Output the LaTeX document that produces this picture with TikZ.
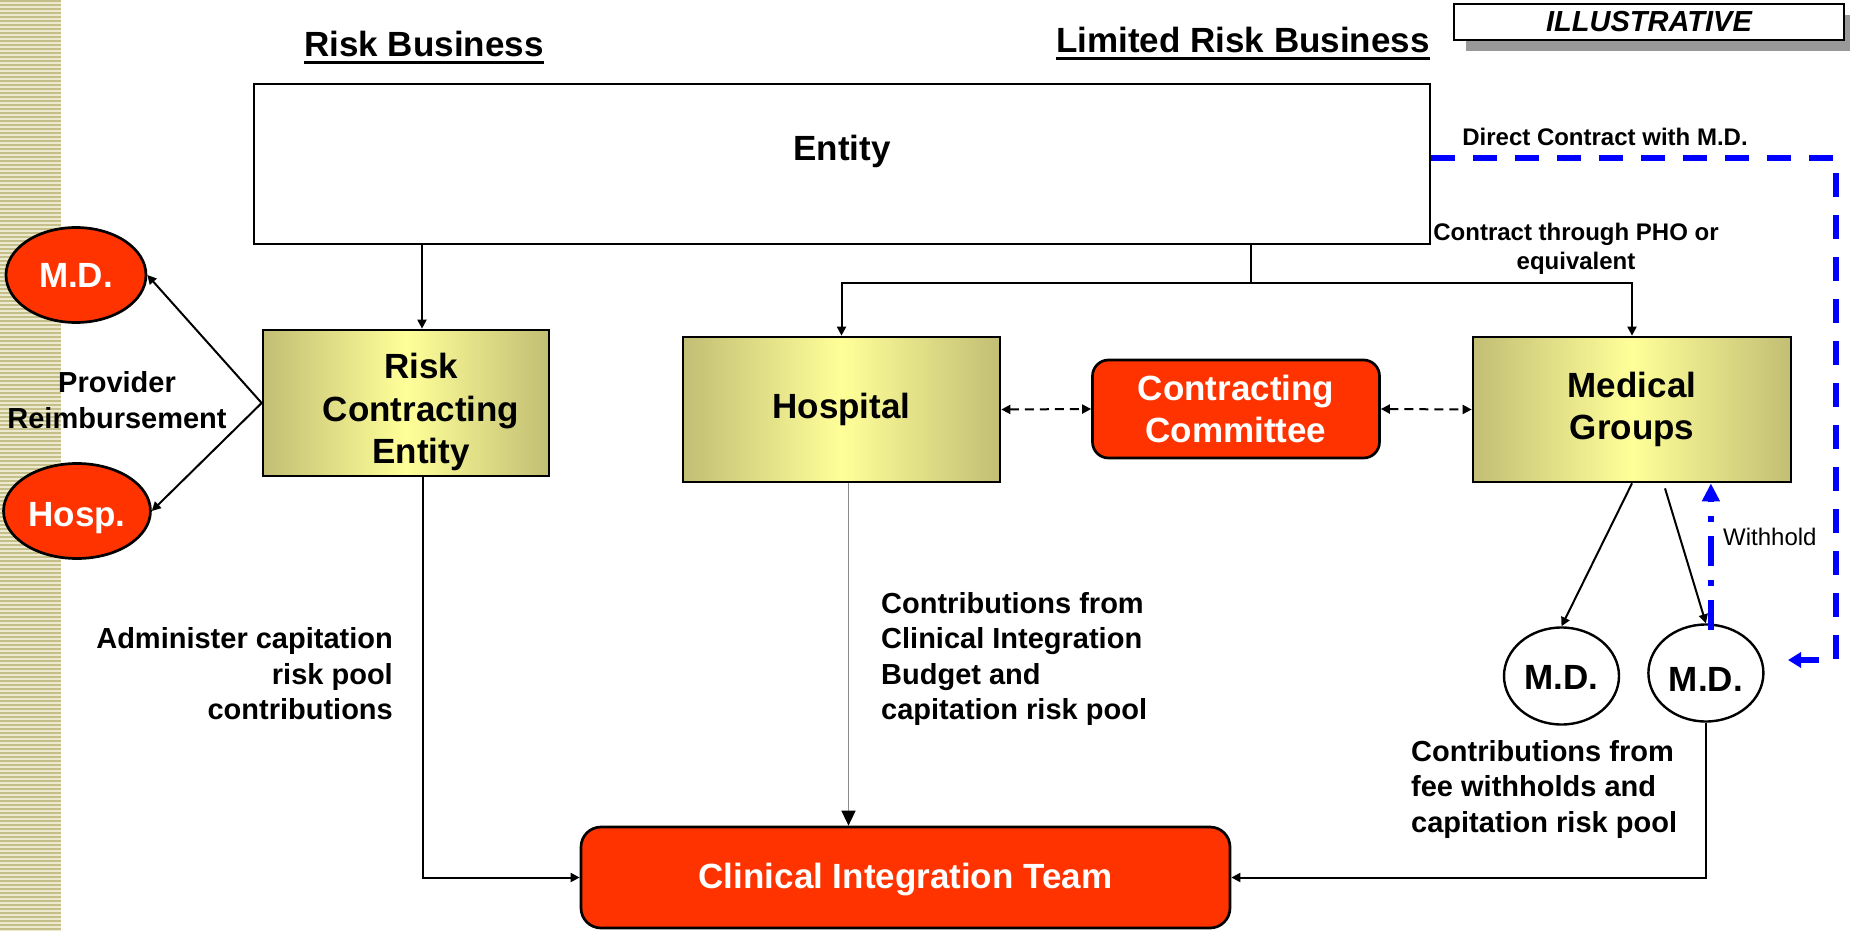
\documentclass[tikz,border=0pt]{standalone}
\usepackage{fontspec}
\setmainfont{Liberation Sans}
\usetikzlibrary{arrows.meta,positioning,calc,shapes.geometric,shadows}

\definecolor{olivedk}{HTML}{C2BE74}
\definecolor{paleyel}{HTML}{FFFF99}
\definecolor{hotred}{HTML}{FF3300}
\definecolor{stripedk}{HTML}{C4BF88}
\definecolor{stripelt}{HTML}{ECE9CF}

\begin{document}
\begin{tikzpicture}[x=1pt,y=-1pt,>={Triangle[length=9pt,width=9pt]},
  bigtxt/.style={font=\fontsize{35}{42.5}\selectfont\bfseries},
  midtxt/.style={font=\fontsize{29}{35.5}\selectfont\bfseries,inner sep=0pt},
  smalltxt/.style={font=\fontsize{24}{29}\selectfont\bfseries,inner sep=0pt},
  goldbox/.style={draw,line width=2.7pt,bigtxt,align=center,
    left color=olivedk,right color=olivedk,middle color=paleyel},
  redbox/.style={draw,line width=2.7pt,fill=hotred,text=white,bigtxt,
    align=center,rounded corners=16pt},
  redoval/.style={ellipse,draw,line width=2.7pt,fill=hotred,text=white,bigtxt,
    minimum width=140pt,minimum height=95pt},
  mdoval/.style={ellipse,draw,line width=2.4pt,fill=white,bigtxt,
    minimum width=115pt,minimum height=97pt},
  link/.style={line width=2pt}]
\useasboundingbox (0,0) rectangle (1850,931);

% striped band down the left edge
\fill[stripelt] (0,0) rectangle (61,931);
\foreach \y in {0,4,...,928} \fill[stripedk] (0,\y) rectangle (61,\y+2);

\node (riskbiz) [bigtxt,inner sep=0pt,anchor=base] at (424,57) {Risk Business};
\node (limbiz) [bigtxt,inner sep=0pt,anchor=base] at (1243,53) {Limited Risk Business};
\draw[line width=3.5pt] ([yshift=-5.5pt]riskbiz.base west) -- ([yshift=-5.5pt]riskbiz.base east);
\draw[line width=3.5pt] ([yshift=-5.5pt]limbiz.base west) -- ([yshift=-5.5pt]limbiz.base east);

\node (illus) [draw,line width=2.7pt,fill=white,minimum width=390pt,minimum height=36pt,
  font=\fontsize{29}{34}\selectfont\bfseries\itshape,
  drop shadow={shadow xshift=12pt,shadow yshift=-11pt,fill=black!40,opacity=1}]
  at (1649,22) {ILLUSTRATIVE};

\node (entity) [draw,line width=2.7pt,minimum width=1176pt,minimum height=160pt,
  label={[bigtxt,yshift=13pt]center:Entity}] at (842,164) {};

\node (rce) [goldbox,minimum width=286pt,minimum height=146pt,
  label={[bigtxt,align=center,xshift=15pt,yshift=-9pt]center:{Risk\\Contracting\\Entity}}] at (406,403) {};
\node (hosp) [goldbox,minimum width=317pt,minimum height=145pt] at (841.5,409.5) {Hospital};
\node (cc) [redbox,minimum width=287pt,minimum height=98pt] at (1236,409) {Contracting\\Committee};
\node (medgrp) [goldbox,minimum width=318pt,minimum height=145pt] at (1632,409.5) {Medical\\Groups};
\node (cit) [redbox,rounded corners=20pt,minimum width=649pt,minimum height=101pt,text depth=4pt]
  at (905.5,877.5) {Clinical Integration Team};

\node (mdred) [redoval] at (76,275) {M.D.};
\node (hospred) [redoval,text height=30pt,text depth=0pt] at (77,511) {Hosp.};
\node (md1) [mdoval,text height=27pt] at (1561.5,676) {M.D.};
\node (md2) [mdoval,right=27pt of md1,yshift=3pt,text height=36pt] {M.D.};

\node (provtxt) [midtxt,align=center] at (117,400) {Provider\\Reimbursement};
\node (admintxt) [midtxt,align=right,anchor=east] at (393,674) {Administer capitation\\risk pool\\contributions};
\node (budtxt) [midtxt,align=left,anchor=west] at (881,659) {Contributions from\\Clinical Integration\\Budget and\\capitation risk pool};
\node (feetxt) [midtxt,align=left,anchor=west] at (1411,789) {Contributions from\\fee withholds and\\capitation risk pool};
\node (photxt) [smalltxt,align=center] at (1576,249) {Contract through PHO or\\equivalent};
\node (dctxt) [smalltxt] at (1605,137) {Direct Contract with M.D.};
\node (wtxt) [font=\fontsize{24}{28}\selectfont,inner sep=0pt,anchor=west] at (1723,537) {Withhold};

\coordinate (split) at (1251,283);
\draw[link] (entity.south -| split) -- (split);
\draw[link,->] (split) -| (hosp.north);
\draw[link,->] (split) -| (medgrp.north);
\draw[link,->] ([xshift=16pt]rce.north |- entity.south) -- ([xshift=16pt]rce.north);

\draw[link,->] (rce.west) -- (mdred.east);
\draw[link,->] (rce.west) -- (hospred.east);
\draw[link,->] ([xshift=17pt]rce.south) |- (cit.west);
\draw[line width=1.4pt,black!45,-{Triangle[length=15pt,width=14pt,color=black]}]
  ([xshift=7pt]hosp.south) -- ([xshift=7pt]hosp.south |- cit.north);

\draw[link,dash pattern=on 9pt off 6pt,<->] (hosp.east) -- (cc.west);
\draw[link,dash pattern=on 9pt off 6pt,<->] (cc.east) -- (medgrp.west);

\draw[link,->] (medgrp.south) -- (md1.north);
\draw[link,->] ([xshift=33pt,yshift=-5pt]medgrp.south) -- (md2.north);
\draw[link,->] (md2.south) |- (cit.east);

\draw[blue,line width=5.5pt,dash pattern=on 30pt off 14pt on 6pt off 14pt,
  -{Triangle[length=18pt,width=17pt]}]
  ([xshift=5pt,yshift=-7pt]md2.north) -- ([xshift=5pt]md2.north |- medgrp.south);

\coordinate (dccorner) at (1836,660);
\coordinate (dcend) at (1788,660);
\draw[blue,line width=6pt,dash pattern=on 24pt off 18pt,-{Triangle[length=13pt,width=15pt]}]
  ([yshift=6pt]entity.east) -| (dccorner) -- (dcend);
\end{tikzpicture}
\end{document}
